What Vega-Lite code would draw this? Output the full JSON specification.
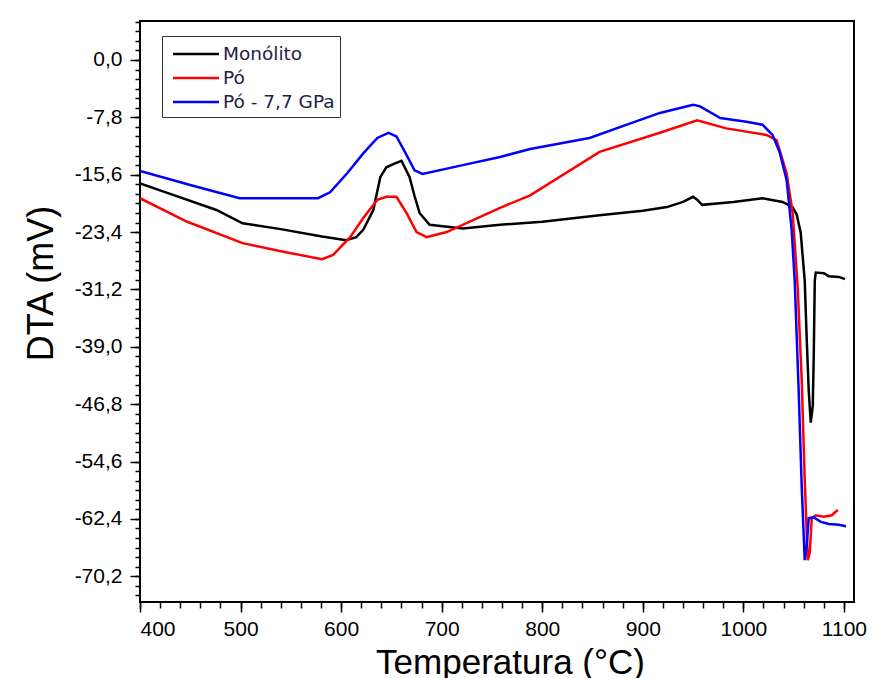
{
  "$schema": "https://vega.github.io/schema/vega-lite/v6.json",
  "width": 714,
  "height": 581,
  "autosize": {"type": "none"},
  "padding": {"left": 140, "top": 21, "right": 27, "bottom": 76},
  "background": "white",
  "config": {
    "view": {"stroke": "black", "strokeWidth": 2},
    "axis": {"grid": false, "domain": false, "tickColor": "black", "tickWidth": 1.5, "labelColor": "black", "titleColor": "black"}
  },
  "datasets": {
    "dta": [
      {"s": "Monólito", "T": 400, "v": -16.8},
      {"s": "Monólito", "T": 430, "v": -18.2},
      {"s": "Monólito", "T": 476, "v": -20.4},
      {"s": "Monólito", "T": 502, "v": -22.2},
      {"s": "Monólito", "T": 540, "v": -23.0},
      {"s": "Monólito", "T": 581, "v": -24.0},
      {"s": "Monólito", "T": 605, "v": -24.5},
      {"s": "Monólito", "T": 615, "v": -24.1},
      {"s": "Monólito", "T": 622, "v": -23.1},
      {"s": "Monólito", "T": 632, "v": -20.4},
      {"s": "Monólito", "T": 639, "v": -15.9},
      {"s": "Monólito", "T": 645, "v": -14.6},
      {"s": "Monólito", "T": 653, "v": -14.1},
      {"s": "Monólito", "T": 660, "v": -13.7},
      {"s": "Monólito", "T": 668, "v": -15.9},
      {"s": "Monólito", "T": 673, "v": -18.5},
      {"s": "Monólito", "T": 678, "v": -20.8},
      {"s": "Monólito", "T": 688, "v": -22.4},
      {"s": "Monólito", "T": 721, "v": -22.9},
      {"s": "Monólito", "T": 758, "v": -22.4},
      {"s": "Monólito", "T": 800, "v": -22.0},
      {"s": "Monólito", "T": 857, "v": -21.1},
      {"s": "Monólito", "T": 900, "v": -20.5},
      {"s": "Monólito", "T": 924, "v": -20.0},
      {"s": "Monólito", "T": 940, "v": -19.3},
      {"s": "Monólito", "T": 950, "v": -18.6},
      {"s": "Monólito", "T": 954, "v": -19.0},
      {"s": "Monólito", "T": 959, "v": -19.7},
      {"s": "Monólito", "T": 990, "v": -19.3},
      {"s": "Monólito", "T": 1019, "v": -18.8},
      {"s": "Monólito", "T": 1039, "v": -19.3},
      {"s": "Monólito", "T": 1049, "v": -20.0},
      {"s": "Monólito", "T": 1053, "v": -21.0},
      {"s": "Monólito", "T": 1057, "v": -23.5},
      {"s": "Monólito", "T": 1061, "v": -30.0},
      {"s": "Monólito", "T": 1063, "v": -38.0},
      {"s": "Monólito", "T": 1065, "v": -45.0},
      {"s": "Monólito", "T": 1067, "v": -49.3},
      {"s": "Monólito", "T": 1069, "v": -47.0},
      {"s": "Monólito", "T": 1070, "v": -40.0},
      {"s": "Monólito", "T": 1071, "v": -30.0},
      {"s": "Monólito", "T": 1072, "v": -28.9},
      {"s": "Monólito", "T": 1080, "v": -29.0},
      {"s": "Monólito", "T": 1085, "v": -29.4},
      {"s": "Monólito", "T": 1095, "v": -29.5},
      {"s": "Monólito", "T": 1101, "v": -29.8},

      {"s": "Pó", "T": 400, "v": -18.8},
      {"s": "Pó", "T": 447, "v": -22.0},
      {"s": "Pó", "T": 502, "v": -24.9},
      {"s": "Pó", "T": 540, "v": -26.0},
      {"s": "Pó", "T": 581, "v": -27.1},
      {"s": "Pó", "T": 592, "v": -26.5},
      {"s": "Pó", "T": 609, "v": -24.1},
      {"s": "Pó", "T": 622, "v": -21.5},
      {"s": "Pó", "T": 636, "v": -19.0},
      {"s": "Pó", "T": 645, "v": -18.6},
      {"s": "Pó", "T": 655, "v": -18.6},
      {"s": "Pó", "T": 665, "v": -20.8},
      {"s": "Pó", "T": 675, "v": -23.4},
      {"s": "Pó", "T": 685, "v": -24.1},
      {"s": "Pó", "T": 705, "v": -23.4},
      {"s": "Pó", "T": 758, "v": -20.1},
      {"s": "Pó", "T": 788, "v": -18.4},
      {"s": "Pó", "T": 857, "v": -12.5},
      {"s": "Pó", "T": 917, "v": -9.9},
      {"s": "Pó", "T": 954, "v": -8.2},
      {"s": "Pó", "T": 983, "v": -9.3},
      {"s": "Pó", "T": 1023, "v": -10.2},
      {"s": "Pó", "T": 1033, "v": -10.9},
      {"s": "Pó", "T": 1043, "v": -15.4},
      {"s": "Pó", "T": 1049, "v": -20.8},
      {"s": "Pó", "T": 1054, "v": -30.9},
      {"s": "Pó", "T": 1058, "v": -43.5},
      {"s": "Pó", "T": 1061, "v": -57.1},
      {"s": "Pó", "T": 1064, "v": -68.0},
      {"s": "Pó", "T": 1066, "v": -67.0},
      {"s": "Pó", "T": 1068, "v": -62.3},
      {"s": "Pó", "T": 1072, "v": -61.9},
      {"s": "Pó", "T": 1080, "v": -62.1},
      {"s": "Pó", "T": 1088, "v": -61.9},
      {"s": "Pó", "T": 1092, "v": -61.4},
      {"s": "Pó", "T": 1094, "v": -61.2},

      {"s": "Pó - 7,7 GPa", "T": 400, "v": -15.1},
      {"s": "Pó - 7,7 GPa", "T": 450, "v": -17.0},
      {"s": "Pó - 7,7 GPa", "T": 499, "v": -18.8},
      {"s": "Pó - 7,7 GPa", "T": 540, "v": -18.8},
      {"s": "Pó - 7,7 GPa", "T": 577, "v": -18.8},
      {"s": "Pó - 7,7 GPa", "T": 589, "v": -18.0},
      {"s": "Pó - 7,7 GPa", "T": 606, "v": -15.4},
      {"s": "Pó - 7,7 GPa", "T": 622, "v": -12.7},
      {"s": "Pó - 7,7 GPa", "T": 636, "v": -10.6},
      {"s": "Pó - 7,7 GPa", "T": 647, "v": -9.9},
      {"s": "Pó - 7,7 GPa", "T": 655, "v": -10.4},
      {"s": "Pó - 7,7 GPa", "T": 665, "v": -12.9},
      {"s": "Pó - 7,7 GPa", "T": 673, "v": -15.0},
      {"s": "Pó - 7,7 GPa", "T": 681, "v": -15.5},
      {"s": "Pó - 7,7 GPa", "T": 721, "v": -14.3},
      {"s": "Pó - 7,7 GPa", "T": 758, "v": -13.2},
      {"s": "Pó - 7,7 GPa", "T": 788, "v": -12.1},
      {"s": "Pó - 7,7 GPa", "T": 847, "v": -10.6},
      {"s": "Pó - 7,7 GPa", "T": 880, "v": -9.0},
      {"s": "Pó - 7,7 GPa", "T": 917, "v": -7.2},
      {"s": "Pó - 7,7 GPa", "T": 950, "v": -6.1},
      {"s": "Pó - 7,7 GPa", "T": 957, "v": -6.3},
      {"s": "Pó - 7,7 GPa", "T": 977, "v": -7.9},
      {"s": "Pó - 7,7 GPa", "T": 1003, "v": -8.4},
      {"s": "Pó - 7,7 GPa", "T": 1019, "v": -8.8},
      {"s": "Pó - 7,7 GPa", "T": 1029, "v": -10.2},
      {"s": "Pó - 7,7 GPa", "T": 1036, "v": -12.5},
      {"s": "Pó - 7,7 GPa", "T": 1043, "v": -16.3},
      {"s": "Pó - 7,7 GPa", "T": 1048, "v": -23.1},
      {"s": "Pó - 7,7 GPa", "T": 1051, "v": -29.9},
      {"s": "Pó - 7,7 GPa", "T": 1055, "v": -45.0},
      {"s": "Pó - 7,7 GPa", "T": 1058, "v": -58.0},
      {"s": "Pó - 7,7 GPa", "T": 1061, "v": -68.0},
      {"s": "Pó - 7,7 GPa", "T": 1063, "v": -66.0},
      {"s": "Pó - 7,7 GPa", "T": 1065, "v": -62.3},
      {"s": "Pó - 7,7 GPa", "T": 1070, "v": -62.2},
      {"s": "Pó - 7,7 GPa", "T": 1077, "v": -62.8},
      {"s": "Pó - 7,7 GPa", "T": 1085, "v": -63.1},
      {"s": "Pó - 7,7 GPa", "T": 1095, "v": -63.2},
      {"s": "Pó - 7,7 GPa", "T": 1102, "v": -63.4}
    ]
  },
  "data": {"name": "dta"},
  "resolve": {"axis": {"x": "independent", "y": "independent"}},
  "layer": [
    {
      "mark": {"type": "line", "strokeWidth": 2.5, "clip": true},
      "encoding": {
        "x": {
          "field": "T", "type": "quantitative",
          "scale": {"domain": [400, 1110], "nice": false, "zero": false},
          "axis": {
            "orient": "bottom",
            "values": [400, 500, 600, 700, 800, 900, 1000, 1100],
            "format": "d",
            "tickSize": 10,
            "labelFont": "Liberation Sans", "labelFontSize": 21, "labelPadding": 6,
            "title": "Temperatura (°C)",
            "titleFont": "Liberation Sans", "titleFontSize": 35, "titleFontWeight": "normal",
            "titleX": 370, "titleY": 71, "titleBaseline": "alphabetic", "titleAlign": "center"
          }
        },
        "y": {
          "field": "v", "type": "quantitative",
          "scale": {"domain": [-73.7, 5.3], "nice": false, "zero": false},
          "axis": {
            "orient": "left",
            "values": [0, -7.8, -15.6, -23.4, -31.2, -39, -46.8, -54.6, -62.4, -70.2],
            "labelExpr": "replace(replace(format(datum.value, '.1f'), '.', ','), '\u2212', '-')",
            "tickSize": 10,
            "labelFont": "Liberation Sans", "labelFontSize": 21, "labelPadding": 8,
            "title": "DTA (mV)",
            "titleFont": "Liberation Sans", "titleFontSize": 36, "titleFontWeight": "normal",
            "titleAngle": 270, "titleX": -88, "titleY": 262, "titleBaseline": "alphabetic", "titleAlign": "center"
          }
        },
        "color": {
          "field": "s", "type": "nominal",
          "scale": {"domain": ["Monólito", "Pó", "Pó - 7,7 GPa"], "range": ["#000000", "#ff0000", "#0000ff"]},
          "legend": {
            "title": null,
            "orient": "none", "legendX": 22, "legendY": 15,
            "symbolType": "M-2,0L2,0", "symbolSize": 529, "symbolStrokeWidth": 2.5,
            "symbolOffset": 16,
            "labelFont": "DejaVu Sans", "labelFontSize": 18.5, "labelColor": "#222244", "labelOffset": 14,
            "rowPadding": 1,
            "strokeColor": "#333333", "fillColor": "white", "padding": 5
          }
        }
      }
    },
    {
      "mark": {"type": "point", "opacity": 0, "size": 0},
      "encoding": {
        "x": {
          "field": "T", "type": "quantitative",
          "axis": {
            "orient": "bottom",
            "values": [400, 420, 440, 460, 480, 500, 520, 540, 560, 580, 600, 620, 640, 660, 680, 700, 720, 740, 760, 780, 800, 820, 840, 860, 880, 900, 920, 940, 960, 980, 1000, 1020, 1040, 1060, 1080, 1100],
            "labels": false, "tickSize": 6, "title": null
          }
        },
        "y": {
          "field": "v", "type": "quantitative",
          "axis": {
            "orient": "left",
            "values": [5.2, 3.9, 2.6, 1.3, 0, -1.3, -2.6, -3.9, -5.2, -6.5, -7.8, -9.1, -10.4, -11.7, -13, -14.3, -15.6, -16.9, -18.2, -19.5, -20.8, -22.1, -23.4, -24.7, -26, -27.3, -28.6, -29.9, -31.2, -32.5, -33.8, -35.1, -36.4, -37.7, -39, -40.3, -41.6, -42.9, -44.2, -45.5, -46.8, -48.1, -49.4, -50.7, -52, -53.3, -54.6, -55.9, -57.2, -58.5, -59.8, -61.1, -62.4, -63.7, -65, -66.3, -67.6, -68.9, -70.2, -71.5, -72.8],
            "labels": false, "tickSize": 5, "title": null
          }
        }
      }
    }
  ]
}
